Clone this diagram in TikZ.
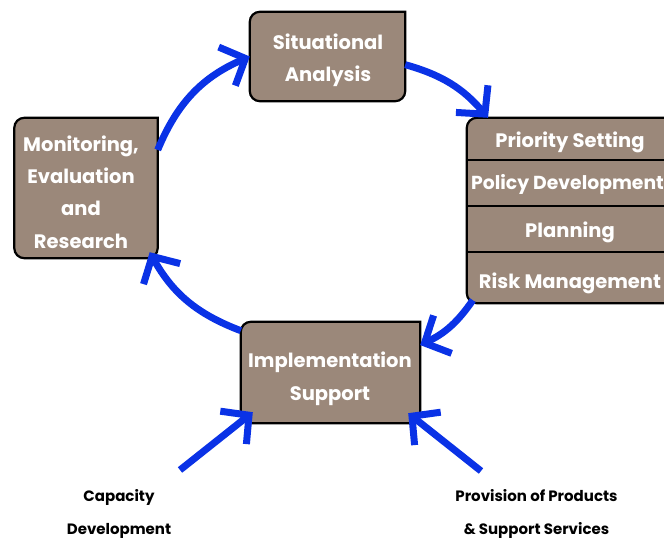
\documentclass[tikz,border=0pt]{standalone}
\usepackage{fontspec}
\setmainfont{Poppins}
\usetikzlibrary{arrows.meta,positioning}
\definecolor{boxfill}{RGB}{155,136,122}
\definecolor{cycleblue}{RGB}{10,50,230}
\tikzset{
	frame/.style={inner sep=0pt},
	outline/.style={draw=black,line width=2.2pt,fill=boxfill},
	divider/.style={draw=black,line width=2pt},
	stagetext/.style={anchor=base,inner sep=0pt,text=white,align=center,font=\bfseries\fontsize{19.5}{32.3}\selectfont},
	flow/.style={draw=cycleblue,line width=7pt,-{Straight Barb[length=20pt,width=42pt]}},
	input/.style={anchor=base,inner sep=0pt,align=center,font=\bfseries\fontsize{15}{32.5}\selectfont}
}
\newcommand{\stageframe}[1]{\draw[outline](#1.north)--(#1.north east)[rounded corners=10pt]--(#1.south east)--(#1.south west)--(#1.north west)--cycle;}
\begin{document}
\begin{tikzpicture}[x=1pt,y=-1pt]
	\useasboundingbox(0,0)rectangle(664,540);
	\node[frame,minimum width=155pt,minimum height=89pt](sit)at(327.5,56.5){};
	\node[frame,minimum width=143pt,minimum height=140pt](mon)at(86,188){};
	\node[frame,minimum width=179pt,minimum height=101pt](imp)at(330.5,372.5){};
	\node[frame,minimum width=208pt,minimum height=185pt](stack)at(571,210.5){};
	\stageframe{sit}
	\stageframe{mon}
	\stageframe{imp}
	\stageframe{stack}
	\foreach \d in {42,88,134.5}
		\draw[divider]([yshift=-\d pt]stack.north west)--([yshift=-\d pt]stack.north east);
	% base of a text is its last line
	\node[stagetext](sitlbl)at(328,82){Situational\\Analysis};
	\node[stagetext](monlbl)at(81,248){Monitoring,\\Evaluation\\and\\Research};
	\node[stagetext](implbl)at(330,400){Implementation\\Support};
	\node[stagetext](pslbl)at(570,148){Priority Setting};
	\node[stagetext,font=\bfseries\fontsize{18.8}{32.3}\selectfont](pdlbl)at(567.5,190){Policy Development};
	\node[stagetext](pllbl)at(570,237){Planning};
	\node[stagetext](rmlbl)at(570,288){Risk Management};
	% the cycle
	\draw[flow](mon.28)to[bend left=22](sit.west);
	\draw[flow](sit.-6)to[bend left=17]([xshift=-83pt]stack.north);
	\draw[flow]([xshift=6pt,yshift=3pt]stack.south west)to[bend left=15](imp.17);
	\draw[flow](imp.155)to[bend left=20]([xshift=-8pt,yshift=6pt]mon.south east);
	\coordinate(capin)at(180,470);
	\coordinate(provin)at(481,471);
	\draw[flow](capin)--([xshift=12pt,yshift=11pt]imp.south west);
	\draw[flow](provin)--([xshift=-12pt,yshift=10pt]imp.south east);
	\node[input](cap)at(119,534){Capacity\\Development};
	\node[input](prov)at(536.5,534){Provision of Products\\\& Support Services};
\end{tikzpicture}
\end{document}
